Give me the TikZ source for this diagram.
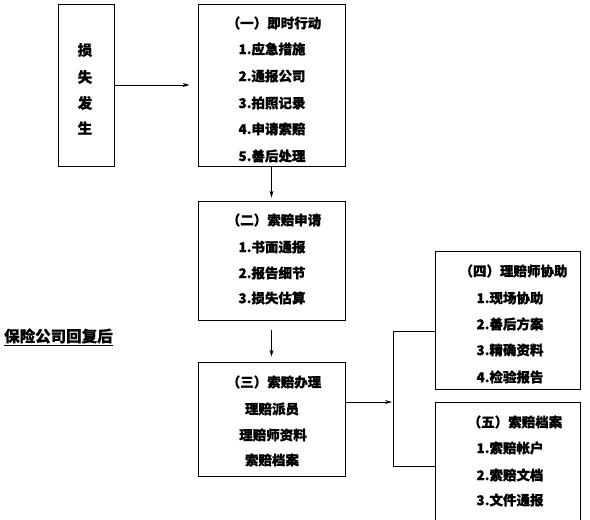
\documentclass[tikz,border=0pt]{standalone}
\usepackage{fontspec}
\newfontfamily\cjk{Noto Sans CJK SC}[BoldFeatures={FakeBold=0.8}]
\usetikzlibrary{arrows.meta}
\tikzset{
  box/.style={draw, line width=0.8pt, inner sep=0pt, minimum width=#1},
  txt/.style={inner sep=0pt, font=\cjk\bfseries\fontsize{13.5}{13.5}\selectfont},
  big/.style={inner sep=0pt, font=\cjk\bfseries\fontsize{14.5}{14.5}\selectfont},
  arr/.style={line width=0.7pt, -{Stealth[length=7pt,width=4pt]}},
  link/.style={line width=0.7pt}
}
\begin{document}
\begin{tikzpicture}[x=1pt,y=-1pt]
\useasboundingbox (0,0) rectangle (590,520);
\clip (0,0) rectangle (590,520);
% boxes
\node[box=56pt, minimum height=162pt] (b0) at (86,85) {};
\node[box=147pt, minimum height=162pt] (b1) at (271.5,85) {};
\node[box=147pt, minimum height=119pt] (b2) at (271.5,260.5) {};
\node[box=147pt, minimum height=114pt] (b3) at (271.5,419) {};
\node[box=145pt, minimum height=138pt] (b4) at (507.5,320) {};
\node[box=145pt, minimum height=138pt] (b5) at (507.5,471) {};
% box 0 text
\node[big] (t0a) at (85,50) {损};
\node[big] (t0b) at (85,77) {失};
\node[big] (t0c) at (85,103) {发};
\node[big] (t0d) at (85,128) {生};
% box 1 text
\node[txt] (t1h) at (274,23) {（一）即时行动};
\node[txt] (t11) at (272,49) {1.应急措施};
\node[txt] (t12) at (272,76) {2.通报公司};
\node[txt] (t13) at (272,103) {3.拍照记录};
\node[txt] (t14) at (272,129) {4.申请索赔};
\node[txt] (t15) at (272,156) {5.善后处理};
% box 2 text
\node[txt] (t2h) at (274,220) {（二）索赔申请};
\node[txt] (t21) at (272,247) {1.书面通报};
\node[txt] (t22) at (272,273) {2.报告细节};
\node[txt] (t23) at (272,298) {3.损失估算};
% box 3 text
\node[txt] (t3h) at (274,382) {（三）索赔办理};
\node[txt] (t31) at (272,409) {理赔派员};
\node[txt] (t32) at (273,435) {理赔师资料};
\node[txt] (t33) at (272,460) {索赔档案};
% box 4 text
\node[txt] (t4h) at (513.5,271) {（四）理赔师协助};
\node[txt] (t41) at (510,298) {1.现场协助};
\node[txt] (t42) at (510,324) {2.善后方案};
\node[txt] (t43) at (510,350) {3.精确资料};
\node[txt] (t44) at (510,377) {4.检验报告};
% box 5 text
\node[txt] (t5h) at (515,422) {（五）索赔档案};
\node[txt] (t51) at (510,448) {1.索赔帐户};
\node[txt] (t52) at (510,475) {2.索赔文档};
\node[txt] (t53) at (510,500) {3.文件通报};
% left label
\node[inner sep=0pt, anchor=west, font=\cjk\bfseries\fontsize{15.5}{15.5}\selectfont] (lab) at (4,337) {\underline{保险公司回复后}};
% connectors
\coordinate (j) at (393,402);
\coordinate (jt) at (393,331);
\coordinate (jb) at (393,466);
\draw[arr, shorten >=8pt] (b0.east) -- (b1.west);
\draw[arr, shorten >=3pt] (b1.south) -- (b2.north);
\draw[arr, shorten <=10pt, shorten >=5pt] (b2.south) -- (b3.north);
\draw[arr, shorten >=1pt] ([yshift=17pt]b3.east) -- (j);
\draw[link] ([yshift=-11pt]b4.west) -- (jt) -- (jb) -- ([yshift=5pt]b5.west);
\end{tikzpicture}
\end{document}
